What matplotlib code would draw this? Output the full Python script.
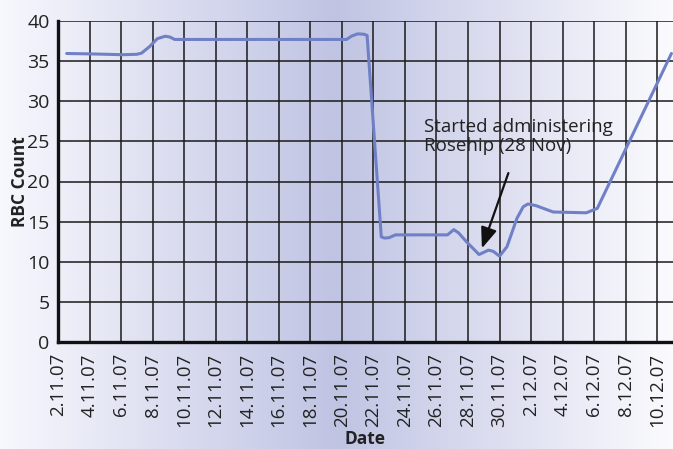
import matplotlib
matplotlib.use("Agg")
import matplotlib.pyplot as plt
import numpy as np

# Days after 2 Nov 2007 and RBC count
days = [0.55, 2.1, 4.1, 5.0, 5.3, 5.8, 6.3, 6.8, 7.1, 7.4, 18.3, 18.6, 19.0, 19.4, 19.6,
        20.5, 20.7, 21.0, 21.4, 24.7, 25.1, 25.4, 25.9, 26.7, 27.3, 27.6, 28.0, 28.47,
        29.1, 29.5, 29.8, 30.3, 31.4, 33.5, 34.2, 38.9]
rbc = [35.95, 35.9, 35.8, 35.85, 36.0, 36.8, 37.8, 38.1, 38.0, 37.7, 37.7, 38.1, 38.4, 38.35, 38.2,
       13.1, 12.95, 13.0, 13.35, 13.35, 14.0, 13.6, 12.5, 10.9, 11.45, 11.3, 10.7, 11.87,
       15.4, 16.85, 17.2, 17.0, 16.2, 16.1, 16.65, 35.95]

tick_days = list(range(0, 39, 2))
tick_labels = ["2.11.07", "4.11.07", "6.11.07", "8.11.07", "10.11.07", "12.11.07", "14.11.07",
               "16.11.07", "18.11.07", "20.11.07", "22.11.07", "24.11.07", "26.11.07", "28.11.07",
               "30.11.07", "2.12.07", "4.12.07", "6.12.07", "8.12.07", "10.12.07"]
y_ticks = [0, 5, 10, 15, 20, 25, 30, 35, 40]

arrow_tip = (26.88, 11.67)
arrow_tail = (28.56, 21.05)
note = "Started administering\nRosehip (28 Nov)"

plt.rcParams['font.family'] = ['Open Sans', 'DejaVu Sans']

fig = plt.figure(figsize=(6.73, 4.49), dpi=100)

# background gradient
bg = fig.add_axes([0, 0, 1, 1], zorder=-10)
W = 673
xs = np.arange(W)
peak = 335.0
left_c = np.array([247, 248, 253]) / 255.0
mid_c = np.array([192, 196, 227]) / 255.0
right_c = np.array([251, 251, 254]) / 255.0
t = np.where(xs < peak, xs / peak, (W - 1 - xs) / (W - 1 - peak))
t = np.clip(t, 0, 1)
cols = np.where((xs < peak)[:, None],
                left_c[None, :] + (mid_c - left_c)[None, :] * t[:, None],
                right_c[None, :] + (mid_c - right_c)[None, :] * t[:, None])
img = np.tile(cols[None, :, :], (10, 1, 1))
bg.imshow(img, aspect='auto', extent=[0, 1, 0, 1])
bg.set_axis_off()

ax = fig.add_axes([58 / 673, (449 - 342) / 449, (673 - 58) / 673, (342 - 21) / 449])
ax.patch.set_alpha(0)
ax.set_xlim(0, 39)
ax.set_ylim(0, 40)
ax.set_xticks(tick_days)
ax.set_xticklabels(tick_labels, rotation=90, fontsize=13.5, color='#222222')
ax.set_yticks(y_ticks)
ax.set_yticklabels([str(v) for v in y_ticks], fontsize=14, color='#222222')
ax.tick_params(axis='both', length=0)
ax.tick_params(axis='x', pad=8)
ax.tick_params(axis='y', pad=6)
ax.grid(True, color='#1a1a1a', linewidth=1.1)
ax.set_axisbelow(True)
for s in ['top', 'right']:
    ax.spines[s].set_visible(False)
for s in ['left', 'bottom']:
    ax.spines[s].set_linewidth(2.4)
    ax.spines[s].set_color('#111111')

ax.plot(days, rbc, color='#6f80c6', linewidth=2.2, solid_capstyle='round', zorder=3, clip_on=False)

ax.annotate('', xy=arrow_tip, xytext=arrow_tail,
            arrowprops=dict(arrowstyle='-|>,head_length=0.9,head_width=0.35',
                            color='#111111', lw=1.6, mutation_scale=14, shrinkA=0, shrinkB=0),
            zorder=4)
ax.text(23.2, 27.9, note, fontsize=13.5, color='#222222', va='top', ha='left', linespacing=1.05, zorder=5)

ax.set_xlabel('Date', fontsize=12.5, fontweight='bold', color='#222222', va='center')
ax.xaxis.set_label_coords(0.5, (342 - 439) / 321)
ax.set_ylabel('RBC Count', fontsize=12.5, fontweight='bold', color='#222222', va='center')
ax.yaxis.set_label_coords((20 - 58) / 615, 0.5)

fig.savefig('out.png', dpi=100)
